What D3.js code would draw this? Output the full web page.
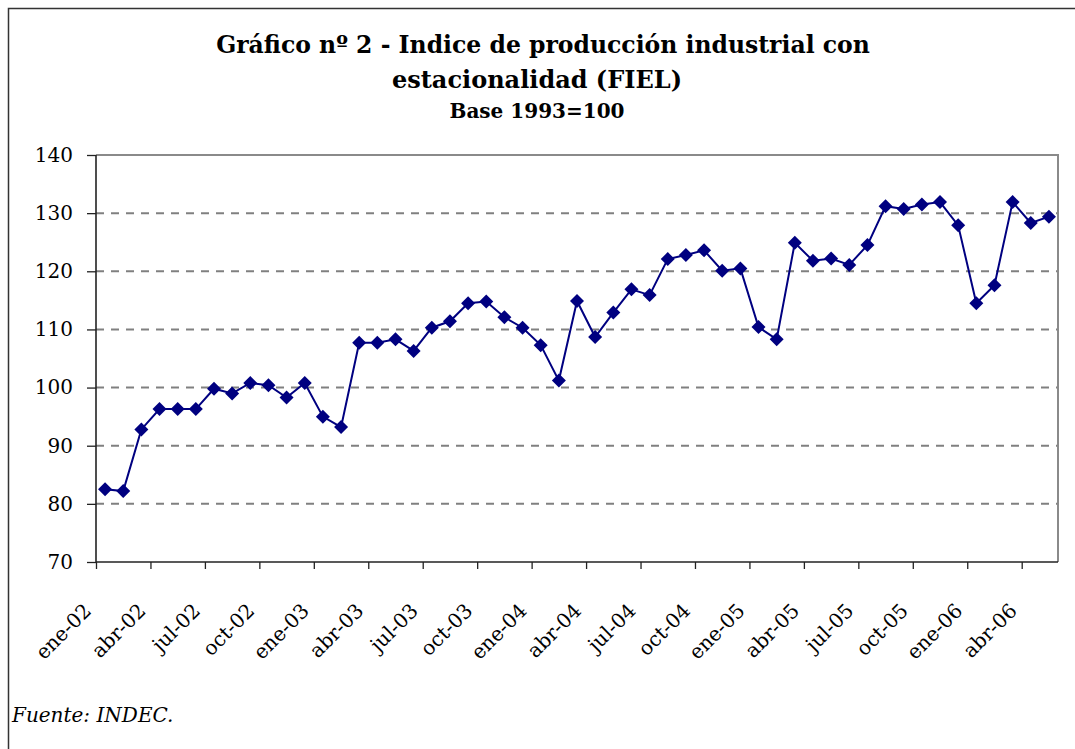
<!DOCTYPE html>
<html>
<head>
<meta charset="utf-8">
<script src="https://cdn.jsdelivr.net/npm/d3@7"></script>
<style>
  body { margin: 0; background: #fff; }
  svg { display: block; }
  text { font-family: "DejaVu Serif", "Liberation Serif", serif; fill: #000; }
</style>
</head>
<body>
<script>
// monthly categories (ene-02 .. may-06)
let months = [
  "ene-02","feb-02","mar-02","abr-02","may-02","jun-02","jul-02","ago-02","sep-02","oct-02","nov-02","dic-02",
  "ene-03","feb-03","mar-03","abr-03","may-03","jun-03","jul-03","ago-03","sep-03","oct-03","nov-03","dic-03",
  "ene-04","feb-04","mar-04","abr-04","may-04","jun-04","jul-04","ago-04","sep-04","oct-04","nov-04","dic-04",
  "ene-05","feb-05","mar-05","abr-05","may-05","jun-05","jul-05","ago-05","sep-05","oct-05","nov-05","dic-05",
  "ene-06","feb-06","mar-06","abr-06","may-06"
];

// index values, base 1993=100
let values = [
  82.5, 82.2, 92.8, 96.3, 96.3, 96.3, 99.8, 99.0, 100.8, 100.4, 98.3, 100.8,
  95.0, 93.2, 107.7, 107.7, 108.3, 106.3, 110.3, 111.4, 114.5, 114.8, 112.1, 110.3,
  107.3, 101.2, 114.9, 108.7, 112.9, 116.9, 115.9, 122.1, 122.8, 123.6, 120.1, 120.5,
  110.4, 108.3, 124.9, 121.8, 122.2, 121.1, 124.5, 131.2, 130.7, 131.5, 131.9, 127.9,
  114.5, 117.6, 131.9, 128.3, 129.4
];

// labelled months on the x axis (every third)
let tickLabels = ["ene-02","abr-02","jul-02","oct-02","ene-03","abr-03","jul-03","oct-03",
  "ene-04","abr-04","jul-04","oct-04","ene-05","abr-05","jul-05","oct-05","ene-06","abr-06"];

let yTicks = [70, 80, 90, 100, 110, 120, 130, 140];

let titleLines = ["Gráfico nº 2 - Indice de producción industrial con", "estacionalidad (FIEL)"];
let subtitle = "Base 1993=100";
let source = "Fuente: INDEC.";

let w = 1075;
let h = 749;
let plotL = 96, plotR = 1058, plotT = 155, plotB = 562;

let dataset = values.map((v, i) => ({ month: months[i], value: v, idx: i }));

let svg = d3.select('body').append('svg').attr('width', w).attr('height', h);

// outer frame (only top and left edges show in the crop)
svg.append('path')
  .attr('d', `M8.5,${h} L8.5,8.5 L${w},8.5`)
  .style('fill', 'none')
  .style('stroke', '#333')
  .style('stroke-width', 1.5);

// category positions: ticks sit between months, points in the middle
let xScale = d3.scaleLinear().domain([0, months.length]).range([plotL, plotR]);
let yScale = d3.scaleLinear().domain([70, 140]).range([plotB, plotT]);

// dashed grid lines
svg.append('g')
  .selectAll('line')
  .data(yTicks.filter(t => t > 70 && t < 140))
  .enter()
  .append('line')
  .attr('x1', plotL)
  .attr('x2', plotR)
  .attr('y1', d => yScale(d))
  .attr('y2', d => yScale(d))
  .style('stroke', '#808080')
  .style('stroke-width', 2)
  .style('stroke-dasharray', '8,7');

// plot area border (top and right)
svg.append('path')
  .attr('d', `M${plotL},${plotT} L${plotR},${plotT} L${plotR},${plotB}`)
  .style('fill', 'none')
  .style('stroke', '#8a8a8a')
  .style('stroke-width', 2);

// y axis
let yAxis = d3.axisLeft(yScale).tickValues(yTicks).tickSize(9).tickPadding(14);
let yAxisGroup = svg.append('g')
  .attr('transform', `translate(${plotL}, 0)`)
  .call(yAxis);
yAxisGroup.select('.domain').remove();
yAxisGroup.selectAll('line').style('stroke', '#222').style('stroke-width', 1.3);
yAxisGroup.selectAll('text')
  .style('font-size', '20px')
  .style('font-family', '"DejaVu Serif", serif');
svg.append('line')
  .attr('x1', plotL).attr('x2', plotL)
  .attr('y1', plotT).attr('y2', plotB)
  .style('stroke', '#222').style('stroke-width', 1.6);

// x axis
let tickIdx = tickLabels.map(l => months.indexOf(l));
let xAxis = d3.axisBottom(xScale)
  .tickValues(tickIdx)
  .tickSize(7)
  .tickFormat(i => months[i]);
let xAxisGroup = svg.append('g')
  .attr('transform', `translate(0, ${plotB})`)
  .call(xAxis);
xAxisGroup.select('.domain').remove();
xAxisGroup.selectAll('line').style('stroke', '#222').style('stroke-width', 1.3);
xAxisGroup.selectAll('text')
  .style('font-size', '20px')
  .style('font-family', '"DejaVu Serif", serif')
  .attr('text-anchor', 'end')
  .attr('dy', 0)
  .attr('transform', 'translate(-4, 50) rotate(-45)')
  .attr('x', 0)
  .attr('y', 0);
svg.append('line')
  .attr('x1', plotL).attr('x2', plotR)
  .attr('y1', plotB).attr('y2', plotB)
  .style('stroke', '#222').style('stroke-width', 1.6);

// series line
let line = d3.line()
  .x(d => xScale(d.idx + 0.5))
  .y(d => yScale(d.value));

svg.append('path')
  .datum(dataset)
  .attr('d', line)
  .style('fill', 'none')
  .style('stroke', '#000080')
  .style('stroke-width', 2);

// diamond markers
let diamond = d3.symbol().type(d3.symbolSquare).size(98);
svg.selectAll('.marks')
  .data(dataset)
  .enter()
  .append('path')
  .classed('marks', true)
  .attr('d', diamond)
  .attr('transform', d => `translate(${xScale(d.idx + 0.5)}, ${yScale(d.value)}) rotate(45)`)
  .style('fill', '#000080');

// titles
svg.append('text')
  .attr('x', 543).attr('y', 53)
  .attr('text-anchor', 'middle')
  .style('font-size', '23.5px').style('font-weight', 'bold')
  .text(titleLines[0]);
svg.append('text')
  .attr('x', 537).attr('y', 88)
  .attr('text-anchor', 'middle')
  .style('font-size', '24px').style('font-weight', 'bold')
  .text(titleLines[1]);
svg.append('text')
  .attr('x', 537).attr('y', 118)
  .attr('text-anchor', 'middle')
  .style('font-size', '20px').style('font-weight', 'bold')
  .text(subtitle);

// source note
svg.append('text')
  .attr('x', 12).attr('y', 722)
  .style('font-size', '20px').style('font-style', 'italic')
  .text(source);
</script>
</body>
</html>
